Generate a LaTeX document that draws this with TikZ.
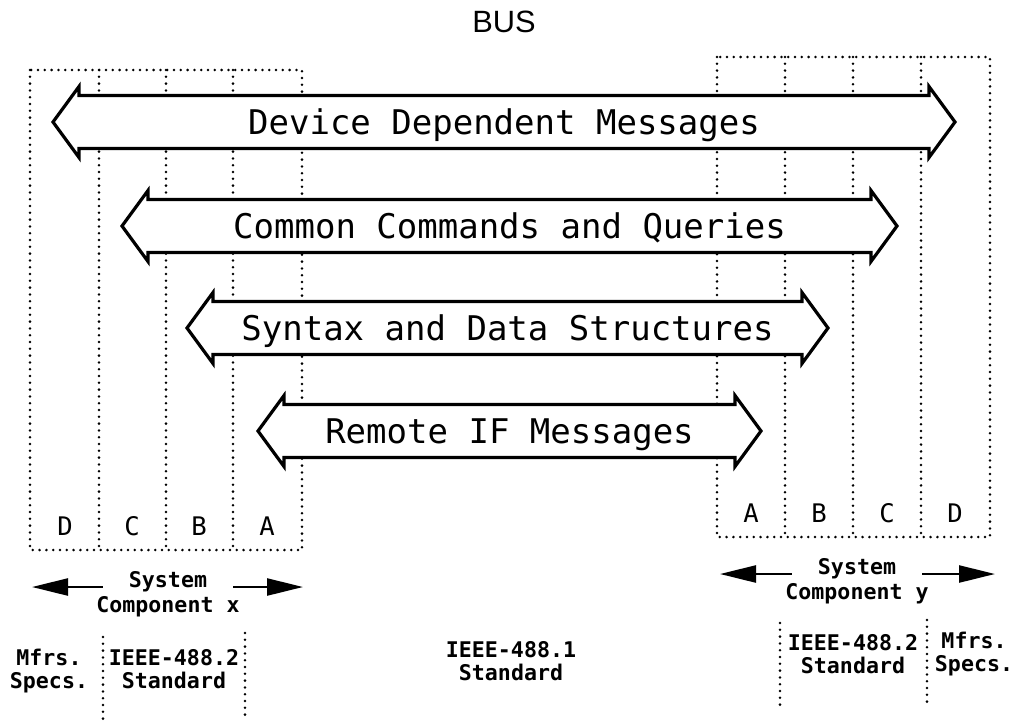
\documentclass[tikz,border=0pt]{standalone}
\usepackage{fontspec}
\usepackage{tikz}
\usetikzlibrary{arrows.meta,positioning}
\newfontfamily\plotfont{DejaVu Sans Mono}
\newfontfamily\busfont{Liberation Sans}
\tikzset{%
	msgarrow/.style = {draw, fill=white, line width=1.6pt, line join=miter}, % message band
	msgtext/.style  = {inner sep=0pt, anchor=base, font=\plotfont\fontsize{17}{20}\selectfont},
	divider/.style  = {line width=1.4pt, line cap=round, dash pattern=on 0pt off 3.4pt}, % dotted
	layerid/.style  = {inner sep=0pt, anchor=base, font=\plotfont\fontsize{12.8}{14}\selectfont},
	spec/.style     = {inner sep=0pt, align=center, font=\plotfont\bfseries\fontsize{10.8}{11.5}\selectfont},
	reach/.style    = {line width=1.2pt, -{Triangle[length=18pt,width=8.5pt]}},
}

\begin{document}
\begin{tikzpicture}[x=0.5pt, y=-0.5pt]
	\useasboundingbox (0,0) rectangle (1018,724);
	\node[inner sep=0pt, anchor=base, font=\busfont\fontsize{15.4}{18}\selectfont] (bus) at (504,32) {BUS};
	% layer columns of both components
	\draw[divider] (30,70) rectangle (302,550);
	\draw[divider] (717,57) rectangle (990,537);
	\foreach \xc in {99,166,233} \draw[divider] (\xc,70) -- (\xc,550);
	\foreach \xc in {785,853,921} \draw[divider] (\xc,57) -- (\xc,537);
	% message bands
	\foreach \name/\xa/\xb/\yc/\txt in {ddm/53/955/122/Device Dependent Messages,
		ccq/122/897/226/Common Commands and Queries,
		sds/187/828/328/Syntax and Data Structures,
		rim/258/761/431/Remote IF Messages}
	{
		\draw[msgarrow] (\xa,\yc) -- ++(26,-35.5) -- ++(0,9) -- ({\xb-26},{\yc-26.5}) -- ++(0,-9)
			-- (\xb,\yc) -- ++(-26,35.5) -- ++(0,-9) -- ({\xa+26},{\yc+26.5}) -- ++(0,9) -- cycle;
		\node[msgtext] (\name) at ({(\xa+\xb)/2},{\yc+12}) {\txt};
	}
	\foreach \ltr/\xc in {D/65,C/132,B/199,A/267} \node[layerid] (x\ltr) at (\xc,535) {\ltr};
	\foreach \ltr/\xc in {A/751,B/819,C/887,D/955} \node[layerid] (y\ltr) at (\xc,522) {\ltr};
	% system components
	\node[spec, anchor=base] (sysx) at (168,587) {System};
	\node[spec, below=2pt of sysx] (compx) {Component x};
	\node[spec, anchor=base] (sysy) at (857,574) {System};
	\node[spec, below=2pt of sysy] (compy) {Component y};
	\coordinate (xl) at (32,587);
	\coordinate (xr) at (303,587);
	\coordinate (yl) at (720,574);
	\coordinate (yr) at (995,574);
	\draw[reach] ([xshift=-13pt]sysx.base west) -- (xl);
	\draw[reach] ([xshift=13pt]sysx.base east) -- (xr);
	\draw[reach] ([xshift=-13pt]sysy.base west) -- (yl);
	\draw[reach] ([xshift=13pt]sysy.base east) -- (yr);
	% standards
	\node[spec, anchor=north] (mfrx) at (49,649) {Mfrs.\\Specs.};
	\node[spec, anchor=north] (stdx) at (174,649) {IEEE-488.2\\Standard};
	\node[spec, anchor=north] (stdbus) at (511,641) {IEEE-488.1\\Standard};
	\node[spec, anchor=north] (stdy) at (853,634) {IEEE-488.2\\Standard};
	\node[spec, anchor=north] (mfry) at (974,632) {Mfrs.\\Specs.};
	\draw[divider] (103,637) -- (103,722);
	\draw[divider] (245,633) -- (245,720);
	\draw[divider] (780,623) -- (780,710);
	\draw[divider] (927,620) -- (927,705);
\end{tikzpicture}
\end{document}
